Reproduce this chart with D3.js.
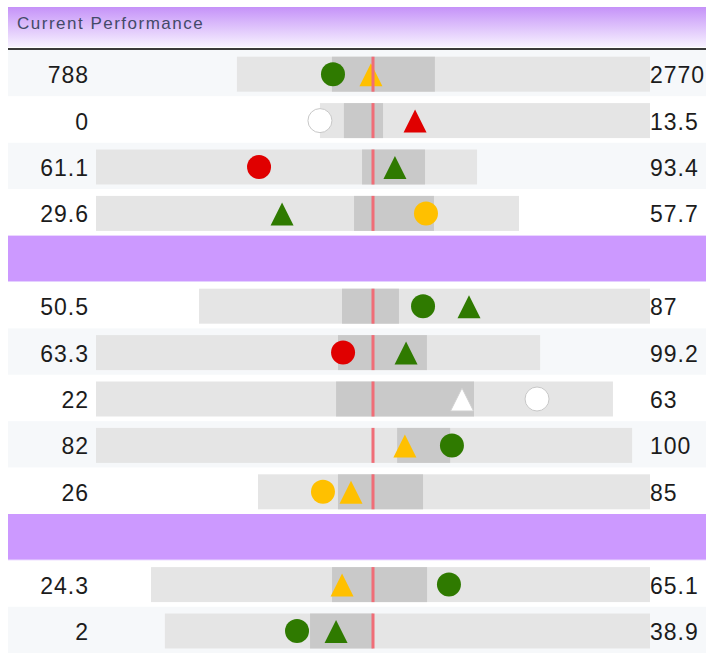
<!DOCTYPE html>
<html>
<head>
<meta charset="utf-8">
<script src="https://cdn.jsdelivr.net/npm/d3@7"></script>
<style>
  html, body { margin: 0; padding: 0; background: #ffffff; }
  svg { display: block; }
</style>
</head>
<body>
<svg id="chart" width="706" height="653"></svg>
<script>
// ---- data ----
const title = "Current Performance";
const sectionSizes = [4, 5, 2];
const minLabels = ["788", "0", "61.1", "29.6", "50.5", "63.3", "22", "82", "26", "24.3", "2"];
const maxLabels = ["2770", "13.5", "93.4", "57.7", "87", "99.2", "63", "100", "85", "65.1", "38.9"];
const minVals = [788, 0, 61.1, 29.6, 50.5, 63.3, 22, 82, 26, 24.3, 2];
const maxVals = [2770, 13.5, 93.4, 57.7, 87, 99.2, 63, 100, 85, 65.1, 38.9];
const targets = [1441, 2.17, 84.58, 48.0, 64.58, 85.69, 43.97, 91.3, 43.31, 42.45, 17.83];
const bandLow = [1244, 0.98, 83.65, 46.74, 62.07, 82.86, 41.04, 92.11, 38.04, 39.1, 13.04];
const bandHigh = [1738, 2.58, 88.99, 52.05, 66.68, 90.05, 51.98, 93.89, 50.84, 46.87, 17.83];
const circleVals = [1249, 0, 74.92, 51.52, 68.63, 83.27, 56.98, 93.95, 35.78, 48.66, 12.05];
const triangleVals = [1431, 3.89, 86.44, 41.96, 72.35, 88.36, 51.03, 92.37, 40.0, 39.92, 15.02];
const circleStatus = ["good", "none", "bad", "warn", "good", "bad", "none", "good", "warn", "good", "good"];
const triangleStatus = ["warn", "bad", "good", "good", "good", "good", "none", "warn", "warn", "warn", "good"];

// ---- style ----
const statusColor = { good: "#2f7a00", bad: "#e00000", warn: "#ffc000", none: "#ffffff" };
const W = 706, left = 8, rowH = 46.4, top0 = 50;
const barX0 = 96, barX1 = 650, barH = 35;
const valueFont = "Liberation Sans, Arial, sans-serif";

const svg = d3.select("#chart");
const defs = svg.append("defs");
const grad = defs.append("linearGradient").attr("id", "hdr").attr("x1", 0).attr("y1", 0).attr("x2", 0).attr("y2", 1);
grad.append("stop").attr("offset", "0%").attr("stop-color", "#c592f8");
grad.append("stop").attr("offset", "100%").attr("stop-color", "#f7f2ff");

// header
svg.append("rect").attr("x", left).attr("y", 7).attr("width", W - left).attr("height", 40).attr("fill", "url(#hdr)");
svg.append("rect").attr("x", left).attr("y", 48).attr("width", W - left).attr("height", 2).attr("fill", "#3a3a3a");
svg.append("text").attr("x", 17).attr("y", 28.5)
  .attr("font-family", valueFont).attr("font-size", 17)
  .attr("letter-spacing", "1.5px").attr("fill", "#434a68").text(title);

// build layout: rows and separators
const layout = [];
let di = 0;
sectionSizes.forEach((n, s) => {
  if (s > 0) layout.push({ sep: true });
  for (let k = 0; k < n; k++) layout.push({ sep: false, i: di++ });
});

const yRow = d3.scaleLinear().domain([0, layout.length]).range([top0, top0 + rowH * layout.length]);

layout.forEach((item, gi) => {
  const y0 = yRow(gi);
  const g = svg.append("g");
  if (item.sep) {
    g.append("rect").attr("x", left).attr("y", y0).attr("width", W - left).attr("height", rowH).attr("fill", "#cc99ff");
    g.append("rect").attr("x", left).attr("y", y0 + rowH - 1).attr("width", W - left).attr("height", 1).attr("fill", "#e4d0ff");
    return;
  }
  const i = item.i;
  g.append("rect").attr("x", left).attr("y", y0).attr("width", W - left).attr("height", rowH)
    .attr("fill", gi % 2 === 0 ? "#f6f8fa" : "#ffffff");

  const cy = y0 + rowH / 2;
  const t = targets[i];
  const d = Math.max(t - minVals[i], maxVals[i] - t);
  const x = d3.scaleLinear().domain([t - d, t + d]).range([barX0, barX1]);

  const by = cy + 1 - barH / 2;
  g.append("rect").attr("x", x(minVals[i])).attr("y", by)
    .attr("width", x(maxVals[i]) - x(minVals[i])).attr("height", barH).attr("fill", "#e5e5e5");
  g.append("rect").attr("x", x(bandLow[i])).attr("y", by)
    .attr("width", x(bandHigh[i]) - x(bandLow[i])).attr("height", barH).attr("fill", "#c9c9c9");

  // markers
  const my = cy + 1;
  const cs = circleStatus[i];
  g.append("circle").attr("cx", x(circleVals[i])).attr("cy", my).attr("r", 12)
    .attr("fill", statusColor[cs]).attr("stroke", cs === "none" ? "#c8c8c8" : "none").attr("stroke-width", 1);
  const ts = triangleStatus[i];
  const tx = x(triangleVals[i]);
  const tri = d3.path();
  tri.moveTo(tx, my - 11); tri.lineTo(tx + 11.5, my + 12); tri.lineTo(tx - 11.5, my + 12); tri.closePath();
  g.append("path").attr("d", tri.toString()).attr("fill", statusColor[ts])
    .attr("stroke", ts === "none" ? "#d0d0d0" : "none");

  // target line
  g.append("rect").attr("x", x(t) - 1.5).attr("y", by).attr("width", 3).attr("height", barH).attr("fill", "#f06d77");

  // labels
  g.append("text").attr("x", 89).attr("y", cy + 10).attr("text-anchor", "end")
    .attr("font-family", valueFont).attr("font-size", 23)
    .attr("letter-spacing", "1px").attr("fill", "#1c1c1c").text(minLabels[i]);
  g.append("text").attr("x", 650).attr("y", cy + 10)
    .attr("font-family", valueFont).attr("font-size", 23)
    .attr("letter-spacing", "1px").attr("fill", "#1c1c1c").text(maxLabels[i]);
});
</script>
</body>
</html>
